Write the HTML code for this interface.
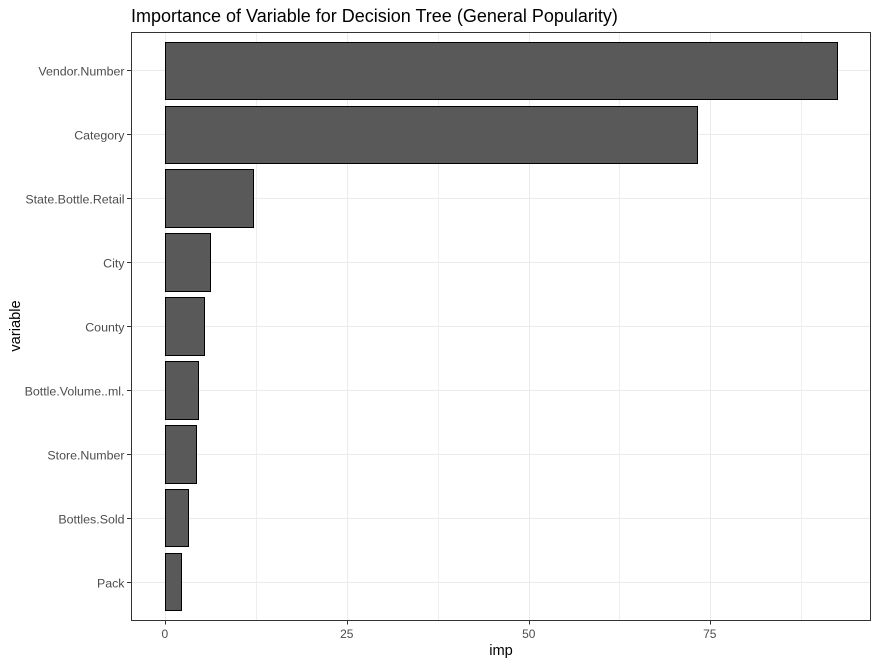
<!DOCTYPE html>
<html>
<head>
<meta charset="utf-8">
<title>Importance of Variable for Decision Tree</title>
<style>
html,body{margin:0;padding:0;background:#fff;}
svg{display:block;font-family:"Liberation Sans",Arial,sans-serif;}
</style>
</head>
<body>
<svg id="chart" width="878" height="665" viewBox="0 0 878 665" xmlns="http://www.w3.org/2000/svg">
<rect x="0" y="0" width="878" height="665" fill="#ffffff"/>
<text x="131" y="22" font-size="18" fill="#000000">Importance of Variable for Decision Tree (General Popularity)</text>
<g id="grid"></g>
<g id="bars"></g>
<rect x="131.5" y="32.5" width="739" height="588" fill="none" stroke="#333333" stroke-width="1"/>
<g id="axes"></g>
<text x="501" y="655" font-size="14.67" text-anchor="middle" fill="#000000">imp</text>
<text transform="translate(20,326) rotate(-90)" font-size="14.67" text-anchor="middle" fill="#000000">variable</text>
</svg>
<script>
var categories = ["Vendor.Number","Category","State.Bottle.Retail","City","County","Bottle.Volume..ml.","Store.Number","Bottles.Sold","Pack"];
var importanceValues = [92.45,73.2,12.1,6.2,5.4,4.55,4.25,3.15,2.2];
var xTickValues = [0,25,50,75];
var xMinorValues = [12.5,37.5,62.5,87.5];

var NS = "http://www.w3.org/2000/svg";
var PANEL = {left:131.5, right:870.5, top:32.5, bottom:620.5};
function xScale(v){ return 165.5 + v * 7.27; }
function yScale(i){ return 70.4 + i * 63.9; }
function snapX(x){ return Math.floor(x) + 0.5; }
function snapY(y){ return Math.round(y) + 0.5; }
var BAR_HEIGHT = 57.5;

function mk(tag, attrs, parent){
  var el = document.createElementNS(NS, tag);
  for (var k in attrs) el.setAttribute(k, attrs[k]);
  parent.appendChild(el);
  return el;
}
var grid = document.getElementById("grid");
var bars = document.getElementById("bars");
var axes = document.getElementById("axes");

xMinorValues.forEach(function(v){
  var x = snapX(xScale(v));
  var l = mk("line", {x1:x, x2:x, y1:PANEL.top, y2:PANEL.bottom, stroke:"#eeeeee", "stroke-width":1}, grid);
  
  
});
xTickValues.forEach(function(v){
  var x = snapX(xScale(v));
  var l = mk("line", {x1:x, x2:x, y1:PANEL.top, y2:PANEL.bottom, stroke:"#ebebeb", "stroke-width":1}, grid);
  
  
  var t = mk("line", {x1:x, x2:x, y1:PANEL.bottom, y2:PANEL.bottom + 4, stroke:"#333333", "stroke-width":1}, axes);
  
  
  var lab = mk("text", {x:x - 0.7, y:638, "font-size":12, "text-anchor":"middle", fill:"#4d4d4d"}, axes);
  
  
  lab.textContent = String(v);
});
categories.forEach(function(name, i){
  var c = yScale(i);
  var y = snapY(c);
  var g = mk("line", {x1:PANEL.left, x2:PANEL.right, y1:y, y2:y, stroke:"#ebebeb", "stroke-width":1}, grid);
  
  
  var x0 = snapX(xScale(0)), x1 = snapX(xScale(importanceValues[i]));
  var top = snapY(c - BAR_HEIGHT / 2), bottom = snapY(c + BAR_HEIGHT / 2);
  var r = mk("rect", {x:x0, y:top, width:x1 - x0, height:bottom - top, fill:"#595959", stroke:"#000000", "stroke-width":1}, bars);
  
  
  var t = mk("line", {x1:PANEL.left - 4.5, x2:PANEL.left, y1:y, y2:y, stroke:"#333333", "stroke-width":1}, axes);
  
  
  var lab = mk("text", {x:124.5, y:y + 5, "font-size":12.4, "text-anchor":"end", fill:"#4d4d4d"}, axes);
  
  
  lab.textContent = name;
});
</script>
</body>
</html>
